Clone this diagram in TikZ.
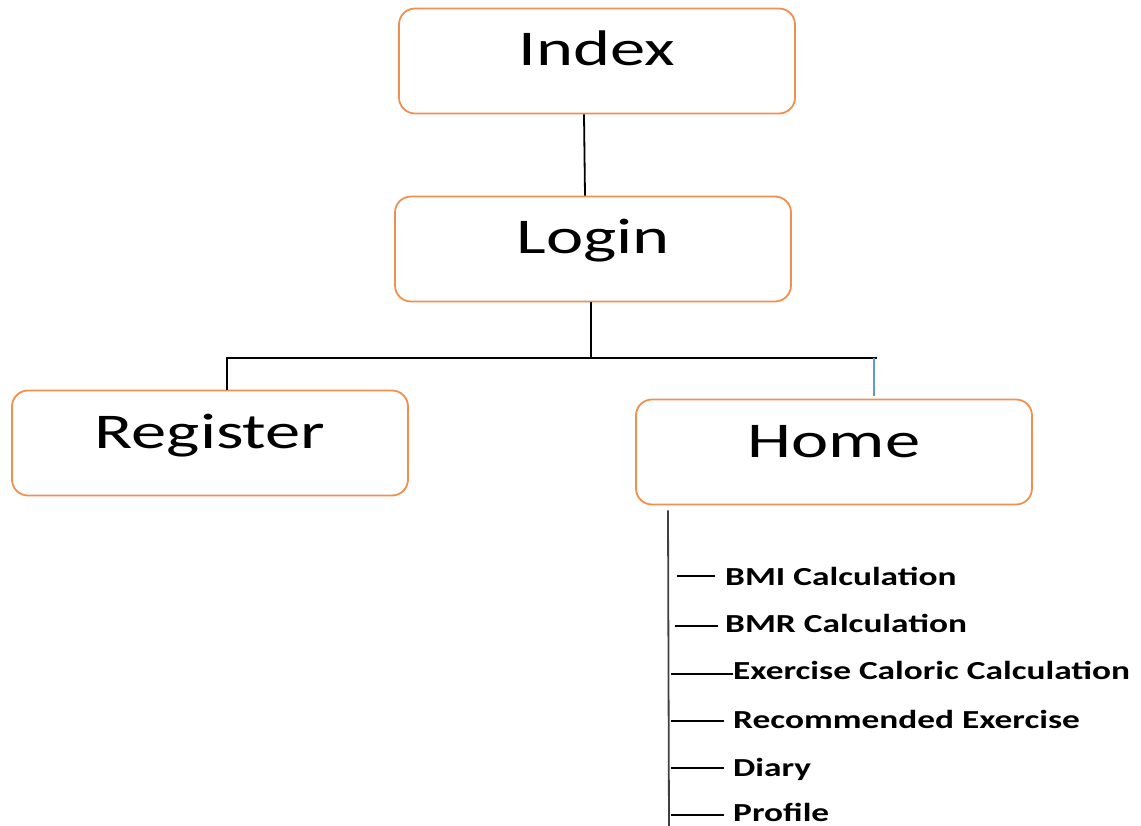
\documentclass[tikz,border=0pt]{standalone}
\usepackage{fontspec}
\setmainfont{Carlito}[FakeStretch=1.36]
\newfontfamily\pagefont{Carlito}[FakeStretch=1.41]
\usetikzlibrary{positioning}

\definecolor{boxorange}{HTML}{F0904F}
\definecolor{linkblue}{HTML}{5B9BD5}

\begin{document}
\begin{tikzpicture}[x=1pt,y=-1pt,
    pagebox/.style={draw=boxorange, line width=1.8pt, rounded corners=16pt,
        minimum width=396pt, minimum height=105pt, inner sep=0pt,
        text height=34pt, text depth=24pt,
        font=\pagefont\fontsize{50}{60}\selectfont},
    menuitem/.style={anchor=base west, inner sep=0pt,
        font=\fontsize{26}{30}\selectfont\bfseries},
    link/.style={line width=1.8pt},
    branch/.style={line width=1.4pt}]

    \useasboundingbox (0,0) rectangle (1141,826);

    % Pages
    \node[pagebox] (index) at (597,61) {Index};
    \node[pagebox] (login) at (593,249) {Login};
    \node[pagebox] (register) at (210,443) {Register};
    \node[pagebox] (home) at (834,452) {Home};

    % Links between pages
    \draw[link] ([xshift=-13pt]index.south) -- ([xshift=-8pt]login.north);
    \draw[link] ([xshift=-2pt]login.south) -- ([xshift=-2pt]login.south |- 0,358);
    \draw[link] (register.north -| 227,0) |- (877,358);
    \draw[link, linkblue] (874,358) -- ([yshift=3pt]home.north -| 874,0);

    % Home menu
    \draw[link, black!75] ([yshift=-5pt]home.south -| 668,0) -- (669,830);
    \foreach \name/\sx/\ly/\gap/\tx/\ty/\txt in {
        bmi/677/576/10/725/585/{BMI Calculation},
        bmr/675/626/7/725/632/{BMR Calculation},
        ecc/671/674/0/733/679/{Exercise Caloric Calculation},
        rec/671/721/9/733/728/{Recommended Exercise},
        diary/671/768/9/733/776/{Diary},
        profile/671/815/9/733/821/{Profile}
    }
    {
        \node[menuitem] (\name) at (\tx,\ty) {\txt};
        \draw[branch] (\sx,\ly) -- ([xshift=-\gap pt]\name.west |- \sx,\ly);
    }

\end{tikzpicture}
\end{document}
